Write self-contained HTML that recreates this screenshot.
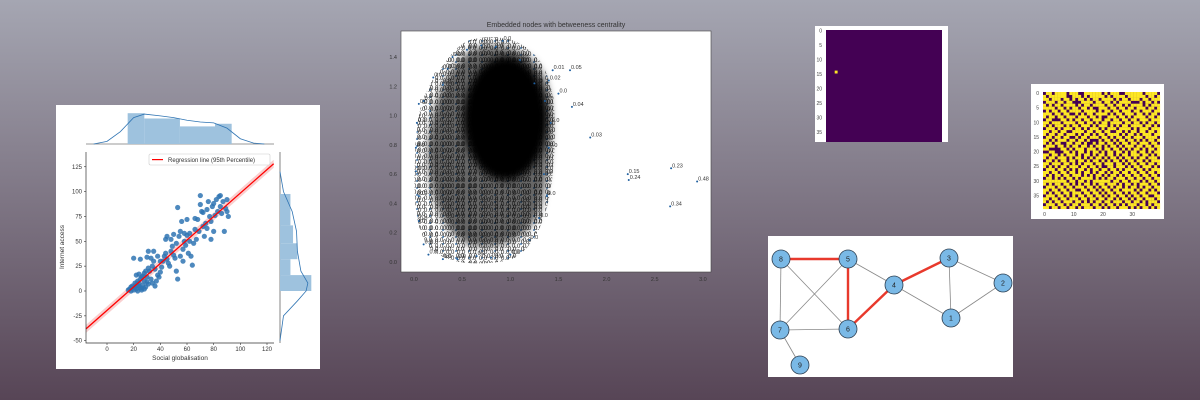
<!DOCTYPE html>
<html><head><meta charset="utf-8"><style>
html,body{margin:0;padding:0;overflow:hidden}
body{width:1200px;height:400px;overflow:hidden;background:linear-gradient(#a5a6b2,#574556);font-family:"Liberation Sans",sans-serif}
svg{display:block}
svg text{font-family:"Liberation Sans",sans-serif}
</style></head><body>
<svg id="root" width="1200" height="400" xmlns="http://www.w3.org/2000/svg">
<defs>
<pattern id="lblPat" width="13" height="7" patternUnits="userSpaceOnUse">
<text x="1" y="6" font-size="6" fill="#000" font-family="Liberation Sans, sans-serif">0.0</text>
<circle cx="1" cy="6" r="0.9" fill="#1f5f9f"/>
</pattern>
<pattern id="lblPat2" width="11" height="6" patternUnits="userSpaceOnUse" patternTransform="translate(5,3)">
<text x="1" y="5" font-size="6" fill="#111" font-family="Liberation Sans, sans-serif">0.0</text>
</pattern>
<filter id="soft"><feGaussianBlur stdDeviation="4"/></filter>
</defs>
<g id="joint">
<rect x="56" y="105" width="264" height="264" fill="#fff"/>
<g id="jointMarks"></g>
</g>
<g id="embed">
<text x="556" y="27" font-size="7" fill="#333" text-anchor="middle">Embedded nodes with betweeness centrality</text>
<rect x="401" y="31" width="310" height="241" fill="#fff" stroke="#444" stroke-width="0.6"/>
<g id="embedMarks"></g>
</g>
<g id="heat1"></g>
<g id="heat2"></g>
<g id="graph">
<rect x="768" y="236" width="245" height="141" fill="#fff"/>
</g>
</svg>
<script>
const scatterX=[16,17,18,19,20,21,22,23,24,25,26,27,28,19,21,23,25,27,22,24,26,28,30,29,31,33,32,34,35,33,36,38,37,39,40,41,42,43,44,45,46,47,48,49,50,51,52,53,54,55,53,56,57,58,59,60,61,62,63,64,65,66,67,68,69,70,71,72,73,74,75,76,77,78,79,80,81,82,83,84,85,86,87,88,89,90,91,90,70,85,60,58,45,44,40,38,35,31,30,36,34,20,25,29,31,48,50,52,55,57,62,75,80,78,66,72,28,30,18,22,26,24];
const scatterY=[1,2,0,3,1,4,2,0,5,3,1,6,2,5,8,10,12,15,16,17,14,18,9,4,7,12,20,25,30,33,22,16,10,14,19,24,30,35,38,32,28,25,40,45,36,33,48,12,55,60,84,70,42,50,46,56,38,58,35,26,48,62,52,72,60,87,80,65,55,68,82,90,75,70,85,88,76,92,80,95,85,78,90,60,83,80,75,92,96,96,72,58,55,52,30,35,40,40,34,5,8,33,32,20,23,52,57,20,35,30,50,63,60,52,73,79,10,14,4,6,3,8];
const histXEdges=[15.5,28,54.7,81,93.5];
const histXCounts=[35,29,20,23];
const kdeXs=[-10,0,10,20,28,40,50,60,70,80,90,100,110,118];
const kdeXv=[0,3,14,30,34,32,30,27,25,24,18,6,1,0];
const histYEdges=[0,16,32,48,66,97.6];
const histYCounts=[36,12,20,15,12];
const kdeYs=[-50,-25,-10,0,8,20,40,60,80,100,120];
const kdeYv=[0,4,20,30,32,24,20,19,14,4,0];
const xTicks=[0,20,40,60,80,100,120];
const yTicks=[-50,-25,0,25,50,75,100,125];
const regX=[-15.75,125];
const regSlope=1.18, regIntercept=-19.5;

const NS="http://www.w3.org/2000/svg";
function mk(tag,attrs,parent,txt){const e=document.createElementNS(NS,tag);for(const k in attrs)e.setAttribute(k,attrs[k]);if(txt!==undefined)e.textContent=txt;parent.appendChild(e);return e;}
const jx=v=>107+1.3333*v, jy=v=>291-0.994*v;
const J=document.getElementById('jointMarks');
{const x0=regX[0],x1=regX[1];
const band=mk('polygon',{points:`${jx(x0)},${jy(regIntercept+regSlope*x0)-4} ${jx(x1)},${jy(regIntercept+regSlope*x1)-4} ${jx(x1)},${jy(regIntercept+regSlope*x1)+4} ${jx(x0)},${jy(regIntercept+regSlope*x0)+4}`,fill:'#f9cfcf'},J);

}
scatterX.forEach((v,i)=>{const c=mk('circle',{cx:jx(v),cy:jy(scatterY[i]),r:2.6,fill:'#2f74b3','fill-opacity':0.85},J);

});
{const x0=regX[0],x1=regX[1];
const l=mk('line',{x1:jx(x0),y1:jy(regIntercept+regSlope*x0),x2:jx(x1),y2:jy(regIntercept+regSlope*x1),stroke:'#f00','stroke-width':1.3},J);

}
{const a=mk('path',{d:'M86,152 V343 H274',stroke:'#333','stroke-width':0.7,fill:'none'},J);

}
xTicks.forEach(t=>{mk('line',{x1:jx(t),x2:jx(t),y1:343,y2:345,stroke:'#333','stroke-width':0.6},J);
const tx=mk('text',{x:jx(t),y:351,'font-size':6,fill:'#333','text-anchor':'middle'},J,String(t));

});
yTicks.forEach(t=>{mk('line',{x1:84,x2:86,y1:jy(t),y2:jy(t),stroke:'#333','stroke-width':0.6},J);
const tx=mk('text',{x:82,y:jy(t)+2,'font-size':6,fill:'#333','text-anchor':'end'},J,String(t));

});
{const t=mk('text',{x:180,y:360,'font-size':6.5,fill:'#333','text-anchor':'middle'},J,'Social globalisation');


const t2=mk('text',{x:64,y:247,'font-size':6.5,fill:'#333','text-anchor':'middle',transform:'rotate(-90 64 247)'},J,'Internet access');

}
{const g=mk('g',{},J);


mk('rect',{x:149,y:154,width:121,height:11,fill:'#fff',stroke:'#ccc','stroke-width':0.6,rx:1.5},g);
mk('rect',{x:152,y:159,width:11,height:1.2,fill:'#f00'},g);
mk('text',{x:168,y:162,'font-size':6,fill:'#333'},g,'Regression line (95th Percentile)');}
mk('line',{x1:86,x2:274,y1:144,y2:144,stroke:'#333','stroke-width':0.6},J);
histXCounts.forEach((c,i)=>{const r=mk('rect',{x:jx(histXEdges[i]),y:144-c*0.88,width:jx(histXEdges[i+1])-jx(histXEdges[i]),height:c*0.88,fill:'#9ec2de'},J);

});
{let d='';kdeXs.forEach((v,i)=>{d+=(i?'L':'M')+jx(v)+','+(144-kdeXv[i]*0.88)});
const p=mk('path',{d,fill:'none',stroke:'#2f74b3','stroke-width':0.8},J);

}
mk('line',{x1:280,x2:280,y1:152,y2:343,stroke:'#333','stroke-width':0.6},J);
histYCounts.forEach((c,i)=>{const r=mk('rect',{x:280,y:jy(histYEdges[i+1]),width:c*0.87,height:jy(histYEdges[i])-jy(histYEdges[i+1]),fill:'#9ec2de'},J);

});
{let d='';kdeYs.forEach((v,i)=>{d+=(i?'L':'M')+(280+kdeYv[i]*0.87)+','+jy(v)});
const p=mk('path',{d,fill:'none',stroke:'#2f74b3','stroke-width':0.8},J);

}

// ---------- embedding scatter ----------
const outX=[1.83,2.22,2.23,2.67,2.94,2.66,1.64,1.62,1.44,1.40,1.50,0.92,0.85,0.55,0.35,0.3,0.05,0.03,0.02,0.02,0.05,0.05,0.1,0.15,0.3,0.45,0.65,0.8,1.0,1.2,1.3,1.38,1.35,1.4,1.42,1.36,1.25,1.1,0.7,0.4,0.2,0.1];
const outY=[0.85,0.60,0.56,0.64,0.55,0.38,1.06,1.31,1.31,1.24,1.15,1.51,1.47,1.45,1.32,1.21,1.08,0.95,0.78,0.62,0.45,0.28,0.12,0.05,0.02,0.02,0.04,0.03,0.05,0.15,0.3,0.45,0.6,0.78,0.95,1.1,1.22,1.38,1.48,1.4,1.26,1.1];
const outLabel=['0.03','0.15','0.24','0.23','0.48','0.34','0.04','0.05','0.01','0.02','0.0','0.0','0.0','0.0','0.0','0.0','0.0','0.0','0.0','0.0','0.0','0.0','0.0','0.0','0.0','0.0','0.0','0.0','0.0','0.0','0.0','0.0','0.0','0.0','0.0','0.0','0.0','0.0','0.0','0.0','0.0','0.0'];
const eXTicks=[0,0.5,1.0,1.5,2.0,2.5,3.0];
const eYTicks=[0,0.2,0.4,0.6,0.8,1.0,1.2,1.4];
const ex=v=>414+96.3*v, ey=v=>262-146.4*v;
const E=document.getElementById('embedMarks');
{
const outline='M470,40 C500,32 530,40 545,70 C558,100 556,140 552,180 C548,215 535,250 510,260 C480,266 450,265 432,250 C416,235 413,200 415,160 C416,120 420,95 440,70 C450,55 458,45 470,40 Z';
const b=mk('path',{d:outline,fill:'url(#lblPat)'},E);


mk('path',{d:outline,fill:'url(#lblPat2)'},E);
const m=mk('path',{d:'M475,48 C505,40 538,52 547,85 C555,120 550,170 540,210 C528,240 500,250 470,245 C445,235 428,200 428,150 C430,100 450,62 475,48 Z',fill:'#000','fill-opacity':0.6,filter:'url(#soft)'},E);


const c=mk('ellipse',{cx:ex(0.95),cy:ey(0.98),rx:42,ry:62,fill:'#000',filter:'url(#soft)'},E);

}
outX.forEach((v,i)=>{mk('circle',{cx:ex(v),cy:ey(outY[i]),r:1,fill:'#1f5f9f'},E);
const t=mk('text',{x:ex(v)+1,y:ey(outY[i])-1,'font-size':5.5,fill:'#333'},E,outLabel[i]);

});
eXTicks.forEach(t=>{const tx=mk('text',{x:ex(t),y:281,'font-size':5.5,fill:'#333','text-anchor':'middle'},E,t.toFixed(1));

});
eYTicks.forEach(t=>{const tx=mk('text',{x:397,y:ey(t)+2,'font-size':5.5,fill:'#333','text-anchor':'end'},E,t.toFixed(1));

});

// ---------- heatmap 1 ----------
const hotRow=[14], hotCol=[3];
const heatTicks=[0,5,10,15,20,25,30,35];
{const H=document.getElementById('heat1');
mk('rect',{x:815,y:26,width:133,height:116,fill:'#fff'},H);
const im=mk('rect',{x:826,y:30,width:116,height:112,fill:'#440154'},H);


const cs=116/40;
hotRow.forEach((r,i)=>{const c=mk('rect',{x:826+hotCol[i]*cs,y:30+r*cs,width:cs,height:cs,fill:'#fde725'},H);

});
heatTicks.forEach(t=>{const tx=mk('text',{x:822,y:31+t*cs+1.5,'font-size':5,fill:'#444','text-anchor':'end'},H,String(t));

});}

// ---------- heatmap 2 ----------
const gridRows=[
"0110111101110011111101011100111111011110",
"1011111100111010111110101111011111101101",
"1101110110101101011011110101101110110111",
"0111011011000111101101101011110001011010",
"1010110111101011011110110110101111010111",
"1111011010110110100111011011011011101101",
"0101101101111011110101101101110110111011",
"1110110110010101101111010110111011010110",
"1011011011101110110100111011010111101101",
"0110001101011011011101101101101101110111",
"1101110111101101101011011110110110101101",
"1010111010110111010111010101101111011010",
"0111010111011010111010111011110101110111",
"1101101100111101101101100110101101101101",
"1011011011101011010110111101011010111011",
"0110110110010110111011010110110111011110",
"1101011101101101000101101011011010101101",
"1010110011011010010110110101101101110110",
"0111011010110110101101011010111011011011",
"1100001101011101110101101101010110101101",
"0011000110101101011010110110101101101011",
"1101101011101011010110110101101110110101",
"1011011101011010101101011010110101101110",
"0110101101101101011010101101011011010111",
"1101110110101011101101110110101101101101",
"1010101101110110110100110111010110111010",
"0111011010101101011011011010111011010111",
"1101101101101011010110101101101101101101",
"1010110110111010101101011010110110110110",
"0110101011010111101010110111011011011011",
"1111111101101101011111101101101110101101",
"1010110110101011010110111010110101110110",
"0111011011011101101011010110101101011011",
"1101101101100110110101101101111010110101",
"1010110110111011011010110110101101101110",
"0111011010101101101101011011010110110011",
"1101101101110110110110110101101011011101",
"1010110111011010101101101110110110101110",
"0111011010110111011010110101011101101011",
"1101101101101011101101011011101010110101"];
const hm2XTicks=[0,10,20,30];
{const H=document.getElementById('heat2');
mk('rect',{x:1031,y:84,width:133,height:135,fill:'#fff'},H);
const cs=117/40;
mk('rect',{x:1043,y:92,width:117,height:117,fill:'#440154'},H);
gridRows.forEach((row,r)=>{for(let c=0;c<row.length;c++){if(row[c]==='1'){const e=mk('rect',{x:1043+c*cs,y:92+r*cs,width:cs+0.1,height:cs+0.1,fill:'#fde725'},H);

}}});
heatTicks.forEach(t=>{const tx=mk('text',{x:1039,y:92+t*cs+3,'font-size':5,fill:'#444','text-anchor':'end'},H,String(t));

});
hm2XTicks.forEach(t=>{const tx=mk('text',{x:1043+t*cs+1.5,y:216,'font-size':5,fill:'#444','text-anchor':'middle'},H,String(t));

});}

// ---------- network graph ----------
const nodeIds=['1','2','3','4','5','6','7','8','9'];
const nodeX=[951,1003,949,894,848,848,780,781,800];
const nodeY=[318,283,258,285,259,329,330,259,365];
const edges=[['8','5',1],['8','7',0],['8','6',0],['5','7',0],['5','6',1],['5','4',0],['7','6',0],['7','9',0],['6','4',1],['4','3',1],['4','1',0],['3','1',0],['3','2',0],['2','1',0]];
{const G=document.getElementById('graph');
const pos=id=>{const i=nodeIds.indexOf(id);return [nodeX[i],nodeY[i]]};
edges.forEach(e=>{const a=pos(e[0]),b=pos(e[1]);const l=mk('line',{x1:a[0],y1:a[1],x2:b[0],y2:b[1],stroke:e[2]?'#e8392c':'#888','stroke-width':e[2]?2.4:0.8},G);

});
nodeIds.forEach((id,i)=>{const c=mk('circle',{cx:nodeX[i],cy:nodeY[i],r:9,fill:'#7ab9e6',stroke:'#2c3e50','stroke-width':0.8},G);


const t=mk('text',{x:nodeX[i],y:nodeY[i]+2.5,'font-size':7,fill:'#222','text-anchor':'middle','font-family':'Liberation Serif, serif'},G,id);

});}
</script>
</body></html>
